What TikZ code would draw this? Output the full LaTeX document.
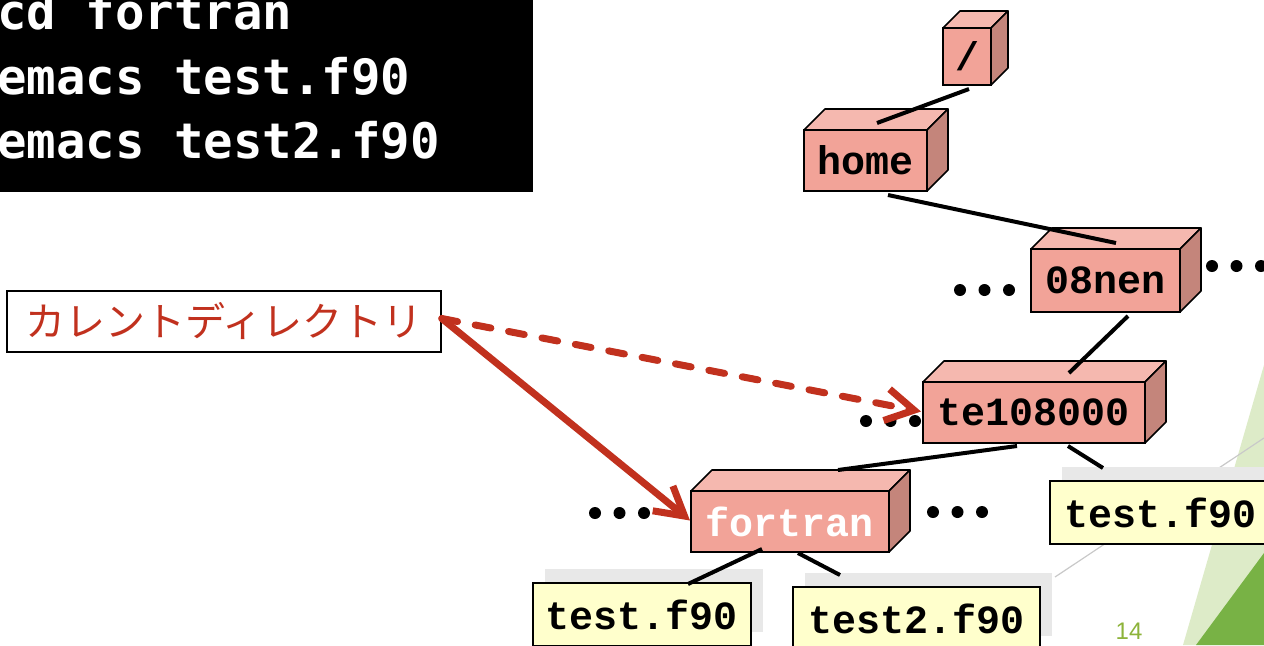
\documentclass[tikz,border=0pt]{standalone}
\usepackage{fontspec}
\usepackage{tikz}
\usetikzlibrary{calc,arrows.meta,shadows}
\newfontfamily\termfont{DejaVu Sans Mono}
\newfontfamily\dirfont{Liberation Mono}
\newfontfamily\jpfont{Noto Sans CJK JP}
\newfontfamily\numfont{Liberation Sans}
\definecolor{dirfront}{HTML}{F2A398}
\definecolor{dirtop}{HTML}{F5B8AF}
\definecolor{dirside}{HTML}{C4857B}
\definecolor{filefill}{HTML}{FFFFCC}
\definecolor{fileshade}{HTML}{E8E8E8}
\definecolor{curred}{HTML}{C1311E}
\definecolor{facetlight}{HTML}{DDEBC8}
\definecolor{facetdark}{HTML}{78B245}
\definecolor{facetline}{HTML}{C9C9C9}
\definecolor{pagenum}{HTML}{8DB33A}

% top and side faces of a directory box (#1 node, #2 depth)
\newcommand{\dirfaces}[2]{%
  \filldraw[fill=dirtop, line width=0.8pt, line join=round] (#1.north west) -- ++(#2,-#2)
    -- ($(#1.north east)+(#2,-#2)$) -- (#1.north east) -- cycle;
  \filldraw[fill=dirside, line width=0.8pt, line join=round] (#1.north east) -- ++(#2,-#2)
    -- ($(#1.south east)+(#2,-#2)$) -- (#1.south east) -- cycle;
}
% "..." between siblings
\newcommand{\dotrow}[1]{%
  \foreach \k in {0,1,2} \fill ($(#1)+(24.5*\k,0)$) circle (3pt);
}

\tikzset{
  dirbox/.style={draw, line width=0.8pt, fill=dirfront, outer sep=0pt, inner sep=0pt,
    font=\dirfont\bfseries\fontsize{20}{24}\selectfont},
  filebox/.style={draw, line width=1pt, fill=filefill, outer sep=0pt, inner sep=0pt,
    minimum height=31.5pt, font=\dirfont\bfseries\fontsize{20}{24}\selectfont,
    drop shadow={shadow xshift=6pt, shadow yshift=7pt, fill=fileshade, opacity=1}},
  cmdline/.style={anchor=base west, inner sep=0pt, text=white,
    font=\termfont\bfseries\fontsize{24.5}{28}\selectfont},
  link/.style={line width=2pt},
  pointer/.style={curred, line width=3.5pt, line cap=round,
    -{Straight Barb[length=14pt, width=16pt]}},
}

\begin{document}
\begin{tikzpicture}[x=0.5pt, y=-0.5pt]
\useasboundingbox (0,0) rectangle (1264,645);
\clip (0,0) rectangle (1264,645);

% slide decoration
\fill[facetlight] (1264,365) -- (1183,645) -- (1264,645) -- cycle;
\fill[facetdark] (1264,553) -- (1196,645) -- (1264,645) -- cycle;
\draw[facetline, line width=0.6pt] (1055,577) -- (1264,438);

% terminal
\fill[black] (-10,-10) rectangle (533,192);
\node (cmd1) [cmdline] at (-3,29) {cd fortran};
\node (cmd2) [cmdline] at (-3,94) {emacs test.f90};
\node (cmd3) [cmdline] at (-3,158) {emacs test2.f90};

% directories
\node (root) [dirbox, minimum width=24pt, minimum height=28.5pt] at (967,56.5) {/};
\dirfaces{root}{17}
\node (home) [dirbox, minimum width=61.5pt, minimum height=30.5pt] at (865.5,160.5) {home};
\dirfaces{home}{21}
\node (nen) [dirbox, minimum width=74.5pt, minimum height=31.5pt] at (1105.5,280.5) {08nen};
\dirfaces{nen}{21}
\node (user) [dirbox, minimum width=111pt, minimum height=30.5pt] at (1034,412.5) {te108000};
\dirfaces{user}{21}
\node (fortran) [dirbox, minimum width=99pt, minimum height=30.5pt, text=white] at (790,521.5) {fortran};
\dirfaces{fortran}{21}

% files
\node (srcC) [filebox, minimum width=111pt] at (1161,512.5) {test.f90};
\node (srcA) [filebox, minimum width=109pt] at (642,614.5) {test.f90};
\node (srcB) [filebox, minimum width=123.5pt] at (916.5,618.5) {test2.f90};

% siblings not shown
\coordinate (nen-l) at (960,290);
\coordinate (nen-r) at (1212,266);
\coordinate (user-l) at (866,421);
\coordinate (fortran-l) at (595,513);
\coordinate (fortran-r) at (933,512);
\dotrow{nen-l}
\dotrow{nen-r}
\dotrow{user-l}
\dotrow{fortran-l}
\dotrow{fortran-r}

% tree
\draw[link] ($(root.south)+(2,4)$) -- ($(home.north)+(11.5,-7)$);
\draw[link] ($(home.south)+(22.5,4)$) -- ($(nen.north)+(10.5,-6)$);
\draw[link] ($(nen.south)+(22.5,4)$) -- ($(user.north)+(35,-9)$);
\draw[link] ($(user.south)+(-17,3)$) -- ($(fortran.north)+(48,-21)$);
\draw[link] ($(user.south)+(34,3)$) -- ($(srcC.north)+(-58,-13)$);
\draw[link] ($(fortran.south)+(-28,-3)$) -- ($(srcA.north)+(46,1)$);
\draw[link] ($(fortran.south)+(8,1)$) -- ($(srcB.north)+(-76.5,-12)$);

% current directory label
\node (cwd) [draw, line width=0.8pt, minimum width=217pt, minimum height=30.5pt, inner sep=0pt,
  text=curred, font=\jpfont\fontsize{20}{24}\selectfont] at (224,321.5) {カレントディレクトリ};
\draw[pointer, dash pattern=on 8pt off 9pt] ($(cwd.east)+(0,-3)$) -- ($(user.west)+(-2,-1)$);
\draw[pointer] ($(cwd.east)+(0,-3)$) -- ($(fortran.west)+(-1,-1)$);

\node (pnum) [text=pagenum, font=\numfont\fontsize{12}{14}\selectfont] at (1129,631) {14};
\end{tikzpicture}
\end{document}
